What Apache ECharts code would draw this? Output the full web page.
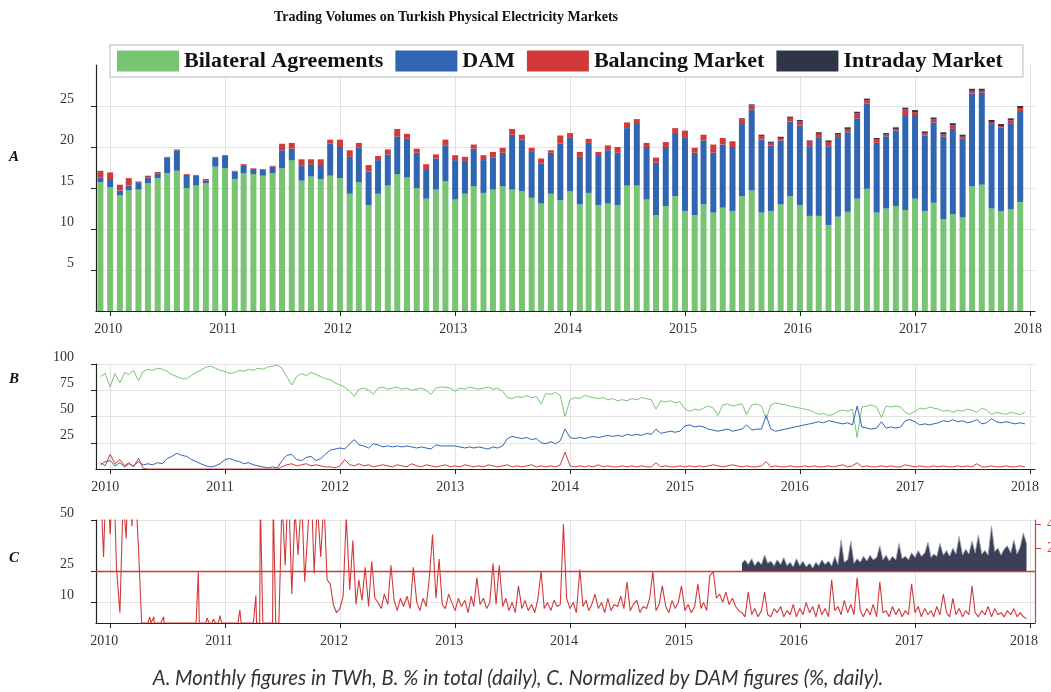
<!DOCTYPE html>
<html>
<head>
<meta charset="utf-8">
<title>Trading Volumes on Turkish Physical Electricity Markets</title>
<script src="https://cdn.jsdelivr.net/npm/echarts@6/dist/echarts.min.js"></script>
<style>
html, body { margin: 0; padding: 0; background: #fff; }
#chart { width: 1051px; height: 692px; }
</style>
</head>
<body>
<div id="chart"></div>
<script>
// ---- A: monthly volumes (TWh), first bar = Dec 2009, last = Dec 2017
const bilateral = [15.7,15.1,14.1,14.7,14.8,15.6,16.2,16.8,17.1,15.0,15.3,15.6,17.6,17.4,16.1,16.8,16.7,16.5,16.8,17.4,18.4,15.9,16.4,16.1,16.5,16.2,14.3,15.7,12.9,14.3,15.3,16.7,16.3,15.0,13.7,14.8,15.8,13.6,14.3,15.2,14.4,14.8,15.2,14.8,14.6,13.8,13.1,14.3,13.5,
  14.6,13.0,14.4,12.9,13.1,12.9,15.3,15.3,13.6,11.7,12.8,14.0,12.2,11.7,13.0,12.0,12.6,12.2,14.0,14.7,12.0,12.2,13.0,14.0,12.9,11.6,11.6,10.5,11.5,12.1,13.7,14.9,12.0,12.5,12.8,12.3,13.7,12.2,13.2,11.2,11.8,11.4,15.2,15.4,12.5,12.2,12.4,13.3];
const dam = [0.6,1.0,0.6,0.6,0.9,0.7,0.6,1.9,2.5,1.6,1.2,0.3,1.1,1.5,0.9,1.0,0.5,0.7,0.8,2.2,1.4,1.8,1.5,1.7,3.9,3.8,4.5,4.2,4.1,4.1,3.8,4.6,4.7,4.3,3.5,3.8,4.4,4.8,4.0,4.6,4.0,3.9,4.1,6.7,6.3,5.6,4.9,5.0,6.9,
  6.6,5.8,6.1,6.0,6.5,6.4,7.0,7.5,6.4,6.4,7.2,7.7,9.0,7.6,7.8,7.3,7.7,7.8,8.8,9.9,8.9,8.0,7.8,9.1,9.7,8.5,9.6,9.6,9.6,9.7,9.8,10.4,8.5,8.8,9.2,11.6,10.2,9.2,9.8,10.1,10.4,9.6,11.3,11.2,10.3,10.2,10.5,11.1];
const balancing = [0.8,0.8,0.7,0.9,0.1,0.2,0.15,0.1,0.1,0.1,0.1,0.2,0.1,0.1,0.1,0.1,0.2,0.1,0.1,0.8,0.7,0.8,0.6,0.7,0.5,0.9,0.8,0.6,0.8,0.5,0.6,0.9,0.6,0.5,0.7,0.5,0.7,0.6,0.5,0.5,0.6,0.7,0.6,0.7,0.6,0.5,0.6,0.3,1.0,
  0.5,0.6,0.5,0.5,0.6,0.7,0.7,0.6,0.5,0.6,0.6,0.6,0.8,0.6,0.7,1.0,0.8,0.7,
  0.6,0.45,0.45,0.3,0.3,0.45,0.55,0.55,0.4,0.5,0.4,0.4,0.6,0.4,0.4,0.2,0.2,0.7,0.35,0.25,0.35,0.25,0.45,0.25,0.35,0.25,0.25,0.15,0.35,0.35];
// intraday market starts Jul 2015 (bar index 67)
const intraday = [0.1,0.15,0.15,0.15,0.15,0.15,0.15,0.15,0.2,0.2,0.2,0.2,0.2,0.2,0.2,0.2,0.2,0.2,0.25,0.25,0.25,0.25,0.25,0.25,0.25,0.25,0.25,0.25,0.25,0.25];

// ---- B: share in total (%), points on the 1st and 16th of each month from Dec 2009
const bGreen = [88,91,
  78,91,82,92,90,94,84,93,95,94,96,95,93,90,88,86,86,89,92,94,97,98,96,94,
  93,91,92,94,93,95,94,96,95,97,98,99,96,88,80,88,91,89,92,90,88,86,85,82,
  80,78,74,69,76,77,75,71,77,78,76,77,78,76,77,75,76,77,75,71,77,78,78,77,
  74,77,76,78,77,76,77,78,76,77,74,68,67,69,68,70,68,69,62,72,71,73,70,50,
  66,68,67,70,69,68,67,68,66,67,65,66,65,67,66,68,67,66,57,65,64,65,63,64,
  57,55,57,56,58,60,58,51,61,62,60,61,62,52,61,62,60,48,61,63,62,61,60,59,
  58,57,56,54,52,53,51,52,55,56,55,57,30,59,60,61,59,49,60,59,60,59,54,52,
  55,58,57,59,58,57,55,56,54,56,55,57,56,54,58,56,52,54,53,52,54,53,52,54];
const bBlue = [4,7,
  8,3,6,2,5,3,7,4,5,4,6,5,10,12,15,13,12,9,7,5,3,2,3,5,
  9,10,8,7,5,6,4,3,2,1,2,1,8,13,14,9,8,11,12,8,10,14,18,19,
  20,19,24,28,23,22,20,24,23,21,22,21,22,21,22,21,20,21,20,19,23,22,22,22,
  22,21,20,21,20,21,20,19,21,20,22,29,31,30,29,30,28,29,25,24,26,24,27,38,
  30,29,30,29,30,31,30,31,32,31,32,31,33,32,33,32,34,33,38,34,35,36,35,36,
  41,42,40,41,40,38,37,36,37,38,36,37,38,42,37,38,38,51,38,36,37,38,39,40,
  41,42,43,44,45,44,46,45,44,43,44,42,60,40,39,38,39,45,39,40,39,40,46,47,
  45,42,43,42,43,44,46,45,47,45,46,44,45,47,43,44,48,45,44,45,44,43,44,43];
const bRed = [6,3,
  14,5,9,3,6,2,10,0.5,0,0,0,0,0,0,0,0,0,0,0,0,0,0,0,0,
  0,0,0,0,0,0,0,0,0,0,0,0,2,4,5,3,4,5,3,4,3,2,2,1,
  3,9,4,3,5,3,4,2,3,4,3,2,4,3,2,5,3,2,4,3,2,3,4,2,
  3,2,4,3,2,3,2,4,3,2,3,4,2,3,2,3,4,2,3,2,3,2,4,16,
  3,2,3,2,3,2,4,2,3,2,2,3,2,3,2,3,2,2,6,2,3,2,2,3,
  2,3,2,3,2,3,4,3,2,3,4,3,2,3,2,2,3,7,2,3,2,2,3,2,
  2,3,2,3,2,2,3,2,3,4,2,3,6,2,3,2,2,3,2,3,2,2,4,3,
  2,3,2,2,3,2,3,2,2,3,2,3,2,5,2,2,3,2,2,3,2,2,3,2];

// ---- C: normalized by DAM (%), points on the 1st, 11th and 21st of each month from Dec 2009
const cBalancing = [70,32,80,
  43,80,27, 5,60,41, 90,47,70, 36,0,0, 0,0,0, 0,0,0, 0,0,0, 0,0,0, 0,0,0, 0,0,0, 0,0,0, 0,0,0,
  0,0,0, 0,0,0, 0,0,0, 0,0,0, 0,0,0, 0,0,0, 60,28,70, 14,55,33, 62,20,45, 70,24,58, 32,60,21, 19,9,5,
  7,13,52, 16,40,9, 21,11,27, 8,30,12, 10,7,14, 9,28,11, 6,12,8, 13,7,27, 10,6,12, 8,22,43, 12,31,9, 7,14,10,
  6,12,8, 11,5,13, 8,22,9, 12,7,10, 29,9,28, 8,12,6, 10,5,18, 7,11,6, 9,5,12, 25,7,10, 6,11,8, 9,48,12,
  7,10,5, 26,8,11, 6,9,14, 7,10,5, 12,6,9, 8,13,7, 20,6,9, 11,5,8, 7,12,25, 6,9,18, 8,5,11, 7,10,18,
  6,9,5, 8,19,7, 10,6,23, 25,12,14, 10,15,9, 12,8,6, 5,3,15, 4,7,3, 6,15,4, 3,7,5, 8,3,6, 4,9,3,
  7,4,10, 5,8,3, 9,4,7, 3,21,6, 8,4,11, 5,9,4, 22,6,3, 7,4,9, 3,20,5, 6,3,8, 4,7,3, 6,4,19,
  5,8,3, 7,4,6, 3,8,4, 14,5,3, 12,4,7, 3,6,4, 18,5,3, 6,4,8, 3,7,4, 5,3,6, 4,7,3, 5,3,2];
// isolated single-day readings inside the quiet 2010-2011 stretch
const cBalancingSpikes = [['2010-05-07',3],['2010-05-20',3],['2010-06-20',3],['2010-10-08',25],['2010-10-10',25],
  ['2010-11-05',2.5],['2010-11-25',2],['2010-12-16',3.6],['2011-02-17',6.4],['2011-04-09',13.5],['2011-04-23',60],['2011-06-03',60]];
// intraday / DAM (%), from Jul 2015, right-hand axis
const cIntraday = [0.7,1.0,0.6, 1.1,0.5,0.9, 0.6,1.4,0.7, 0.9,0.5,1.0, 0.6,1.2,0.5, 0.8,0.4,1.1,
  0.5,0.9,0.4, 0.7,0.3,0.8, 0.5,1.0,0.6, 0.9,0.5,1.3, 0.6,2.7,0.8, 1.0,2.6,0.7, 1.1,0.8,1.3, 0.9,1.4,1.0, 1.2,2.2,1.0, 1.4,0.9,1.3, 1.0,2.4,1.1, 1.3,1.0,1.6,
  1.2,1.8,1.3, 1.6,2.5,1.2, 1.5,1.3,2.4, 1.4,1.8,1.3, 2.0,1.5,3.0, 1.4,1.9,1.5, 2.6,1.6,3.1, 1.5,1.8,1.4, 3.9,1.7,2.0, 1.4,1.9,2.2, 1.6,2.7,1.5, 2.1,3.3,2.4];

const years = [2010, 2011, 2012, 2013, 2014, 2015, 2016, 2017, 2018];
const seriesNames = ['Bilateral Agreements', 'DAM', 'Balancing Market', 'Intraday Market'];
const colors = ['#78c473', '#2f65b1', '#d23a3a', '#303449'];

const yearTicks = years.map(y => Date.UTC(y, 0, 1));
const xMin = Date.UTC(2009, 10, 17);
const xMax = Date.UTC(2018, 0, 17);

function parseDay(s) {
  const p = s.split('-').map(Number);
  return Date.UTC(p[0], p[1] - 1, p[2]);
}
const monthX = bilateral.map((_, i) => Date.UTC(2009, 11 + i, 1));
const halfX = k => Date.UTC(2009, 11 + Math.floor(k / 2), k % 2 ? 16 : 1);
const thirdX = (k, y0, m0) => Date.UTC(y0, m0 + Math.floor(k / 3), [1, 11, 21][k % 3]);

const intradayFull = bilateral.map((_, i) => i < 67 ? '-' : intraday[i - 67]);
const cBalData = cBalancing.map((v, k) => [thirdX(k, 2009, 11), v])
  .concat(cBalancingSpikes.map(s => [parseDay(s[0]), s[1]]))
  .sort((a, b) => a[0] - b[0]);

const serif = 'Liberation Serif';
const labelStyle = { fontFamily: serif, fontSize: 14, color: '#333' };

// the year labels of B and C sit a little left of their ticks
function xAxisFor(gridIndex, shift) {
  return {
    type: 'value', gridIndex: gridIndex, min: xMin, max: xMax,
    axisLine: { onZero: false, lineStyle: { color: '#222', width: 1.2 } },
    axisTick: { customValues: yearTicks, length: 5, lineStyle: { color: '#222' } },
    axisLabel: Object.assign({ customValues: yearTicks, margin: 11, padding: [0, shift, 0, 0],
      formatter: v => String(new Date(v).getUTCFullYear()) }, labelStyle),
    splitLine: { show: true, lineStyle: { color: '#e2e2e2' } }
  };
}
function yAxisFor(gridIndex, max, ticks) {
  return {
    type: 'value', gridIndex: gridIndex, min: 0, max: max,
    axisLine: { show: true, lineStyle: { color: '#222', width: 1.2 } },
    axisTick: { show: true, customValues: ticks, length: 5, lineStyle: { color: '#222' } },
    axisLabel: Object.assign({ customValues: ticks, margin: 22, verticalAlign: 'bottom' }, labelStyle),
    splitLine: { show: true, lineStyle: { color: '#e2e2e2' } }
  };
}

const chart = echarts.init(document.getElementById('chart'));

// value first, date second, so the stack adds up the volumes and not the dates
const barSeries = [bilateral, dam, balancing, intradayFull].map((arr, s) => ({
  name: seriesNames[s],
  type: 'bar',
  stack: 'volume',
  xAxisIndex: 0, yAxisIndex: 0,
  barWidth: 6,
  encode: { x: 1, y: 0 },
  itemStyle: { color: colors[s] },
  data: arr.map((v, i) => [v, monthX[i]])
}));

const bSeries = [bGreen, bBlue, bRed].map((arr, s) => ({
  name: 'B ' + seriesNames[s],
  type: 'line',
  xAxisIndex: 1, yAxisIndex: 1,
  showSymbol: false,
  lineStyle: { width: 1, color: colors[s] },
  data: arr.map((v, k) => [halfX(k), v])
}));

const option = {
  animation: false,
  backgroundColor: '#fff',
  grid: [
    { left: 96, right: 16, top: 65, height: 246, outerBoundsMode: 'none' },
    { left: 96, right: 16, top: 364, height: 105, outerBoundsMode: 'none' },
    { left: 96, right: 16, top: 520, height: 103, outerBoundsMode: 'none' }
  ],
  legend: {
    data: seriesNames,
    left: 110, top: 45,
    icon: 'rect',
    itemWidth: 62, itemHeight: 21, itemGap: 12,
    padding: [5, 20, 5, 7],
    backgroundColor: '#fff',
    borderColor: '#cfcfcf', borderWidth: 1.5,
    selectedMode: false,
    textStyle: { fontFamily: serif, fontWeight: 'bold', fontSize: 22, color: '#111' }
  },
  xAxis: [xAxisFor(0, 4), xAxisFor(1, 10), xAxisFor(2, 12)],
  yAxis: [
    yAxisFor(0, 30, [5, 10, 15, 20, 25]),
    yAxisFor(1, 100, [25, 50, 75, 100]),
    yAxisFor(2, 50, [10, 25, 50]),
    {
      type: 'value', gridIndex: 2, position: 'right', min: -4.4, max: 4.4,
      axisLine: { show: true, onZero: false, lineStyle: { color: '#d23a3a', width: 1.2 } },
      axisTick: { show: true, customValues: [2, 4], length: 6, lineStyle: { color: '#d23a3a' } },
      axisLabel: { customValues: [2, 4], margin: 12, fontFamily: serif, fontSize: 14, color: '#d23a3a' },
      splitLine: { show: false }
    }
  ],
  series: barSeries.concat(bSeries, [
    {
      name: 'C Balancing',
      type: 'line',
      xAxisIndex: 2, yAxisIndex: 2,
      showSymbol: false,
      lineStyle: { width: 1.1, color: '#d23a3a' },
      data: cBalData
    },
    {
      name: 'C Intraday',
      type: 'line',
      xAxisIndex: 2, yAxisIndex: 3,
      showSymbol: false,
      itemStyle: { color: '#d23a3a' },
      lineStyle: { width: 0.8, color: '#a2a4b2' },
      areaStyle: { color: '#3c3f57', opacity: 1 },
      data: cIntraday.map((v, k) => [thirdX(k, 2015, 6), v]),
      markLine: {
        silent: true, symbol: 'none', label: { show: false },
        lineStyle: { color: '#d23a3a', width: 1.3, type: 'solid', opacity: 1 },
        emphasis: { disabled: true },
        data: [{ yAxis: 0, lineStyle: { color: '#d23a3a' } }]
      }
    }
  ]),
  graphic: [
    { type: 'text', x: 446, y: 17, style: { text: 'Trading Volumes on Turkish Physical Electricity Markets',
      fontFamily: serif, fontWeight: 'bold', fontSize: 14, fill: '#111', align: 'center', verticalAlign: 'middle' } },
    { type: 'text', x: 14, y: 157, style: { text: 'A', fontFamily: serif, fontStyle: 'italic', fontWeight: 'bold',
      fontSize: 15, fill: '#111', align: 'center', verticalAlign: 'middle' } },
    { type: 'text', x: 14, y: 379, style: { text: 'B', fontFamily: serif, fontStyle: 'italic', fontWeight: 'bold',
      fontSize: 15, fill: '#111', align: 'center', verticalAlign: 'middle' } },
    { type: 'text', x: 14, y: 558, style: { text: 'C', fontFamily: serif, fontStyle: 'italic', fontWeight: 'bold',
      fontSize: 15, fill: '#111', align: 'center', verticalAlign: 'middle' } },
    { type: 'text', x: 518, y: 678, style: { text: 'A. Monthly figures in TWh, B. % in total (daily), C. Normalized by DAM figures (%, daily).',
      fontFamily: 'Lato', fontStyle: 'italic', fontSize: 20.3, fill: '#333', align: 'center', verticalAlign: 'middle' } }
  ]
};

chart.setOption(option);
window.addEventListener('resize', function () {
  chart.resize();
});
</script>
</body>
</html>
